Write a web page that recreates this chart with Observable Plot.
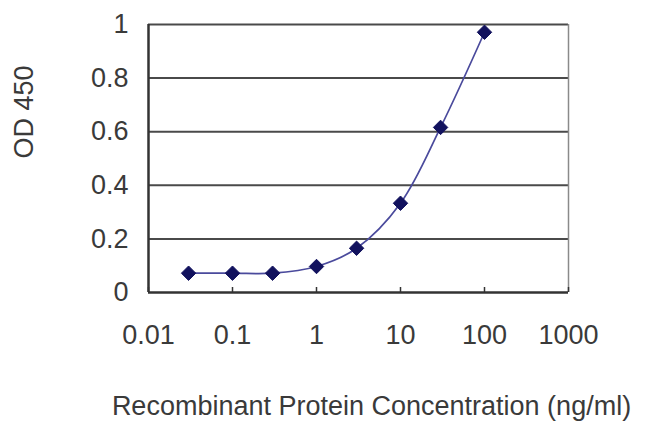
<!DOCTYPE html>
<html>
<head>
<meta charset="utf-8">
<script src="https://cdn.jsdelivr.net/npm/d3@7"></script>
<script src="https://cdn.jsdelivr.net/npm/@observablehq/plot@0.6"></script>
<style>
  html, body { margin: 0; padding: 0; background: #fff; }
</style>
</head>
<body>
<div id="chart"></div>
<script>
const concentration = [0.03, 0.1, 0.3, 1, 3, 10, 30, 100];
const od450 = [0.072, 0.072, 0.072, 0.097, 0.165, 0.333, 0.616, 0.971];
const xTickValues = [0.01, 0.1, 1, 10, 100, 1000];
const xTickLabels = ["0.01", "0.1", "1", "10", "100", "1000"];
const yTickValues = [0, 0.2, 0.4, 0.6, 0.8, 1];
const yTickLabels = ["0", "0.2", "0.4", "0.6", "0.8", "1"];
const xTitle = "Recombinant Protein Concentration (ng/ml)";
const yTitle = "OD 450";

const data = concentration.map((c, i) => ({c, v: od450[i]}));
const xLabelData = xTickValues.map((v, i) => ({v, label: xTickLabels[i]}));
const font = "'Liberation Sans', Arial, sans-serif";
const textColor = "#3a3a3a";
const fs = 27;

const chart = Plot.plot({
  width: 650,
  height: 434,
  marginLeft: 148,
  marginRight: 82,
  marginTop: 24,
  marginBottom: 142,
  style: {fontFamily: font, fontSize: fs + "px", color: textColor, background: "#fff"},
  x: {type: "log", domain: [0.01, 1000]},
  y: {domain: [0, 1]},
  marks: [
    Plot.ruleY(yTickValues.filter(d => d > 0), {x1: 0.01, x2: 1000, stroke: "#4a4a4a", strokeWidth: 2}),
    Plot.ruleX([1000], {y1: 0, y2: 1, stroke: "#8a8a8a", strokeWidth: 1.5}),
    Plot.axisX({ticks: xTickValues, tickSize: -5, tickFormat: () => "", stroke: "#333", strokeWidth: 1.5, label: null}),
    Plot.text(xLabelData, {x: "v", text: "label", frameAnchor: "bottom", dy: 51, fill: textColor, fontSize: fs}),
    Plot.axisY({ticks: yTickValues, tickSize: 0, tickPadding: 20, tickFormat: (d, i) => yTickLabels[i], fill: textColor, fontSize: fs, label: null}),
    Plot.ruleX([0.01], {y1: 0, y2: 1, stroke: "#333", strokeWidth: 2.5}),
    Plot.ruleY([0], {x1: 0.01, x2: 1000, stroke: "#333", strokeWidth: 2.5}),
    Plot.line(data, {x: "c", y: "v", curve: "catmull-rom", stroke: "#4a4a9c", strokeWidth: 1.7}),
    Plot.dot(data, {x: "c", y: "v", symbol: "diamond2", r: 6.5, fill: "#12125e", stroke: "#12125e", strokeWidth: 1}),
    Plot.text([yTitle], {frameAnchor: "left", rotate: -90, dx: -124, fill: textColor, fontSize: fs}),
    Plot.text([xTitle], {frameAnchor: "bottom", dx: 13, dy: 122, fill: textColor, fontSize: fs})
  ]
});
document.getElementById("chart").appendChild(chart);
</script>
</body>
</html>
